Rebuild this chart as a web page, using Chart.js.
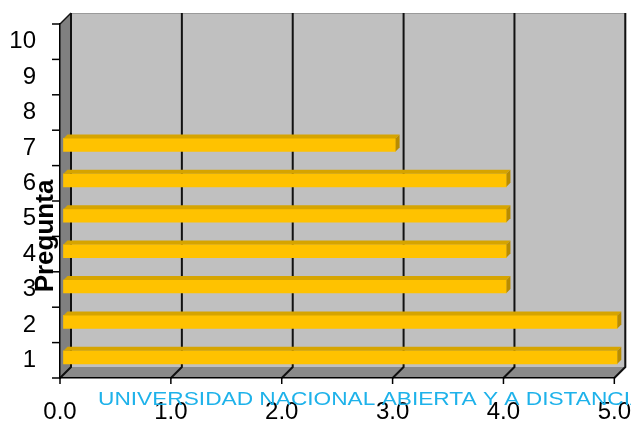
<!DOCTYPE html>
<html>
<head>
<meta charset="utf-8">
<script src="https://cdn.jsdelivr.net/npm/chart.js@4/dist/chart.umd.min.js"></script>
<style>
  html, body { margin: 0; padding: 0; background: #ffffff; }
  #wrap { width: 631px; height: 424px; position: relative; }
</style>
</head>
<body>
<div id="wrap"><canvas id="chart"></canvas></div>
<script>
// ---------------- DATA ----------------
const questions = ['1', '2', '3', '4', '5', '6', '7', '8', '9', '10'];
const scores = [5, 5, 4, 4, 4, 4, 3, null, null, null];
const xMin = 0;
const xMax = 5;
const axisTitle = 'Pregunta';
const watermark = 'UNIVERSIDAD NACIONAL ABIERTA Y A DISTANCIA';

// 3D look (Excel style)
const WALL_DEPTH = 11;
const BAR_SHIFT_X = 3;
const BAR_SHIFT_Y = -3;
const BAR_DEPTH = 4;

const excel3d = {
  id: 'excel3d',
  beforeDraw(chart) {
    const ctx = chart.ctx;
    const a = chart.chartArea;
    const xs = chart.scales.x;
    const d = WALL_DEPTH;
    ctx.save();
    // back wall
    ctx.fillStyle = '#c0c0c0';
    ctx.fillRect(a.left + d, a.top - d, a.right - a.left, a.bottom - a.top);
    ctx.strokeStyle = '#9a9a9a';
    ctx.lineWidth = 1;
    ctx.strokeRect(a.left + d + 0.5, a.top - d + 0.5, a.right - a.left - 1, a.bottom - a.top);
    // left wall
    ctx.fillStyle = '#808080';
    ctx.beginPath();
    ctx.moveTo(a.left, a.top);
    ctx.lineTo(a.left + d, a.top - d);
    ctx.lineTo(a.left + d, a.bottom - d);
    ctx.lineTo(a.left, a.bottom);
    ctx.closePath();
    ctx.fill();
    // floor
    ctx.fillStyle = '#8a8a8a';
    ctx.beginPath();
    ctx.moveTo(a.left, a.bottom);
    ctx.lineTo(a.left + d, a.bottom - d);
    ctx.lineTo(a.right + d, a.bottom - d);
    ctx.lineTo(a.right, a.bottom);
    ctx.closePath();
    ctx.fill();
    // grid lines on back wall + floor
    ctx.strokeStyle = '#111111';
    ctx.lineWidth = 2;
    xs.ticks.forEach(t => {
      const px = xs.getPixelForValue(t.value);
      ctx.beginPath();
      ctx.moveTo(px + d, a.top - d);
      ctx.lineTo(px + d, a.bottom - d);
      ctx.lineTo(px, a.bottom);
      ctx.stroke();
    });
    // top-left edge
    ctx.lineWidth = 1.5;
    ctx.beginPath();
    ctx.moveTo(a.left, a.top);
    ctx.lineTo(a.left + d, a.top - d);
    ctx.stroke();
    ctx.restore();
  },
  beforeDatasetsDraw(chart) {
    chart.ctx.save();
    chart.ctx.translate(BAR_SHIFT_X, BAR_SHIFT_Y);
  },
  afterDatasetsDraw(chart) {
    const ctx = chart.ctx;
    const meta = chart.getDatasetMeta(0);
    const d = BAR_DEPTH;
    meta.data.forEach((el, i) => {
      if (scores[i] == null) return;
      const p = el.getProps(['x', 'y', 'base', 'height'], true);
      const top = p.y - p.height / 2;
      const bot = p.y + p.height / 2;
      // top face
      ctx.fillStyle = '#d6a400';
      ctx.beginPath();
      ctx.moveTo(p.base, top);
      ctx.lineTo(p.base + d, top - d);
      ctx.lineTo(p.x + d, top - d);
      ctx.lineTo(p.x, top);
      ctx.closePath();
      ctx.fill();
      // side face
      ctx.fillStyle = '#b88c00';
      ctx.beginPath();
      ctx.moveTo(p.x, top);
      ctx.lineTo(p.x + d, top - d);
      ctx.lineTo(p.x + d, bot - d);
      ctx.lineTo(p.x, bot);
      ctx.closePath();
      ctx.fill();
    });
    ctx.restore();
  },
  afterDraw(chart) {
    const ctx = chart.ctx;
    const a = chart.chartArea;
    const xs = chart.scales.x;

    // short tick marks (the library's own ones are made invisible so labels sit further out)
    ctx.save();
    ctx.strokeStyle = '#000000';
    ctx.lineWidth = 1.5;
    xs.ticks.forEach(t => {
      const px = xs.getPixelForValue(t.value);
      ctx.beginPath();
      ctx.moveTo(px, a.bottom);
      ctx.lineTo(px, a.bottom + 6);
      ctx.stroke();
    });
    const step = (a.bottom - a.top) / questions.length;
    for (let k = 0; k <= questions.length; k++) {
      const py = a.top + k * step;
      ctx.beginPath();
      ctx.moveTo(a.left - 8, py);
      ctx.lineTo(a.left, py);
      ctx.stroke();
    }
    ctx.restore();

    // axis title, drawn over the tick labels like the original
    ctx.save();
    ctx.translate(46, 236);
    ctx.rotate(-Math.PI / 2);
    ctx.font = 'bold 26px "Liberation Sans", Arial, sans-serif';
    ctx.fillStyle = '#000000';
    ctx.textAlign = 'center';
    ctx.textBaseline = 'middle';
    ctx.fillText(axisTitle, 0, 0);
    ctx.restore();

    // watermark, stretched a little so it runs off the right edge like the original
    ctx.save();
    ctx.font = '18px "Liberation Sans", Arial, sans-serif';
    ctx.fillStyle = '#1eb2ea';
    ctx.textAlign = 'left';
    ctx.textBaseline = 'alphabetic';
    const w = ctx.measureText(watermark.slice(0, -1)).width;
    ctx.translate(98, 405);
    ctx.scale((630 - 98) / w, 1);
    ctx.fillText(watermark, 0, 0);
    ctx.restore();
  }
};

new Chart(document.getElementById('chart'), {
  type: 'bar',
  data: {
    labels: questions,
    datasets: [{
      data: scores,
      backgroundColor: '#ffc200',
      borderWidth: 0,
      barThickness: 13,
      clip: false
    }]
  },
  options: {
    indexAxis: 'y',
    responsive: true,
    maintainAspectRatio: false,
    animation: false,
    layout: { padding: { top: 24, right: 10, left: 0, bottom: 0 } },
    plugins: {
      legend: { display: false },
      tooltip: { enabled: false }
    },
    scales: {
      x: {
        type: 'linear',
        min: xMin,
        max: xMax,
        ticks: {
          stepSize: 1,
          callback: v => Number(v).toFixed(1),
          font: { family: '"Liberation Sans", Arial, sans-serif', size: 24 },
          color: '#000000',
          padding: 0,
          maxRotation: 0
        },
        grid: { drawOnChartArea: false, drawTicks: true, tickLength: 20, tickColor: 'rgba(0,0,0,0)' },
        border: { display: true, color: '#000000', width: 1.5 },
        afterFit: s => { s.height = 46; }
      },
      y: {
        type: 'category',
        reverse: true,
        ticks: {
          font: { family: '"Liberation Sans", Arial, sans-serif', size: 24 },
          color: '#000000',
          padding: 0
        },
        grid: { drawOnChartArea: false, drawTicks: true, tickLength: 24, tickColor: 'rgba(0,0,0,0)', offset: true },
        border: { display: true, color: '#000000', width: 1.5 },
        afterFit: s => { s.width = 60; }
      }
    }
  },
  plugins: [excel3d]
});
</script>
</body>
</html>
